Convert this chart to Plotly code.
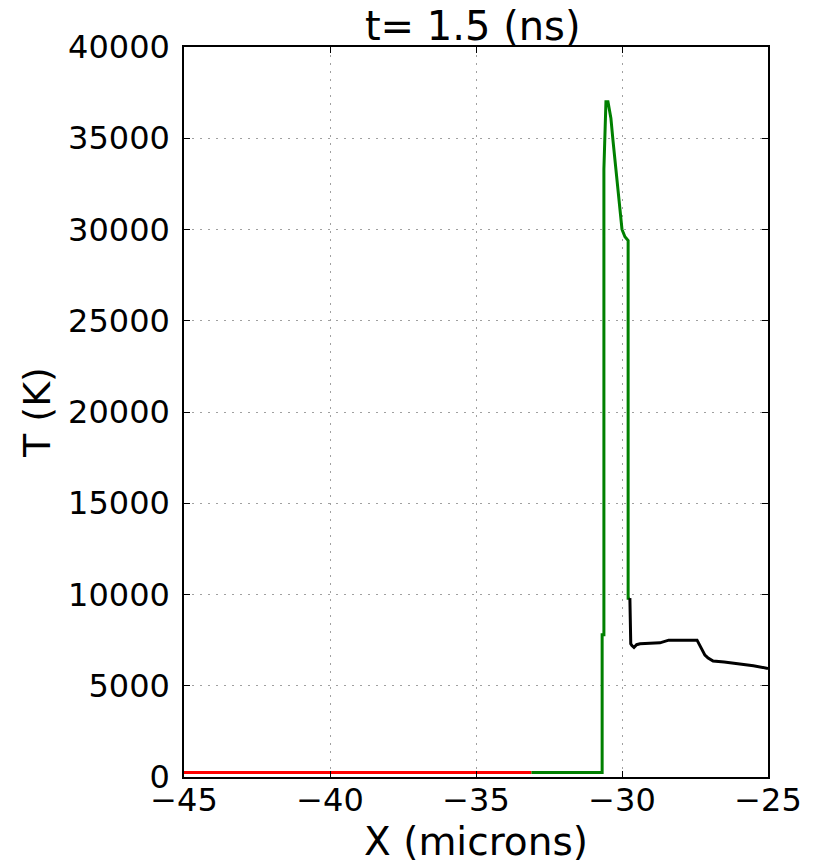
import plotly.graph_objects as go

# Data
x_red = [-45.0, -33.1]
t_red = [250, 250]

x_green = [-33.1, -30.68, -30.68, -30.62, -30.62, -30.55, -30.48, -30.42, -30.38, -30.31,
           -30.24, -30.14, -30.07, -30.0, -29.90, -29.79, -29.79, -29.73]
t_green = [250, 250, 7800, 7800, 33300, 37000, 37000, 36300, 36100, 34900,
           33800, 32200, 31100, 30000, 29600, 29400, 9800, 9800]

x_black = [-29.73, -29.70, -29.66, -29.59, -29.50, -29.38, -28.70, -28.40, -27.43, -27.30,
           -27.16, -27.05, -26.88, -26.50, -26.00, -25.50, -25.00]
t_black = [9800, 7300, 7200, 7100, 7250, 7300, 7350, 7500, 7500, 7070,
           6680, 6520, 6350, 6300, 6200, 6100, 5950]

x_ticks = [-45, -40, -35, -30, -25]
y_ticks = [0, 5000, 10000, 15000, 20000, 25000, 30000, 35000, 40000]

font = "DejaVu Sans"

fig = go.Figure()
fig.add_trace(go.Scatter(x=x_red, y=t_red, mode="lines", line=dict(color="#ff0000", width=3)))
fig.add_trace(go.Scatter(x=x_green, y=t_green, mode="lines", line=dict(color="#008000", width=3)))
fig.add_trace(go.Scatter(x=x_black, y=t_black, mode="lines", line=dict(color="#000000", width=3)))

axis_common = dict(
    showline=True, linecolor="black", linewidth=1.5, mirror="ticks",
    showgrid=True, gridcolor="#a0a0a0", griddash="2px,6px", gridwidth=1,
    ticks="inside", ticklen=6, tickcolor="black", tickwidth=1,
    zeroline=False, tickfont=dict(family=font, size=32, color="black"),
)

fig.update_layout(
    width=817, height=867,
    margin=dict(l=184, r=49, t=47, b=90),
    paper_bgcolor="white", plot_bgcolor="white",
    showlegend=False,
    title=dict(text="t= 1.5 (ns)", x=(184 + 768) / 2 / 817 - 0.004, xanchor="center",
               y=1 - 26 / 867, yanchor="middle",
               font=dict(family=font, size=40, color="black")),
    xaxis=dict(range=[-45, -25], tickvals=x_ticks, ticktext=["\u2212" + str(abs(v)) for v in x_ticks],
               ticklabelstandoff=-6,
               title=dict(text="X (microns)", font=dict(family=font, size=39, color="black"), standoff=4),
               **axis_common),
    yaxis=dict(range=[0, 40000], tickvals=y_ticks, ticktext=[str(v) for v in y_ticks],
               ticklabelstandoff=6,
               title=dict(text="T (K)", font=dict(family=font, size=38, color="black"), standoff=6),
               **axis_common),
)

fig.write_html("out.html")
